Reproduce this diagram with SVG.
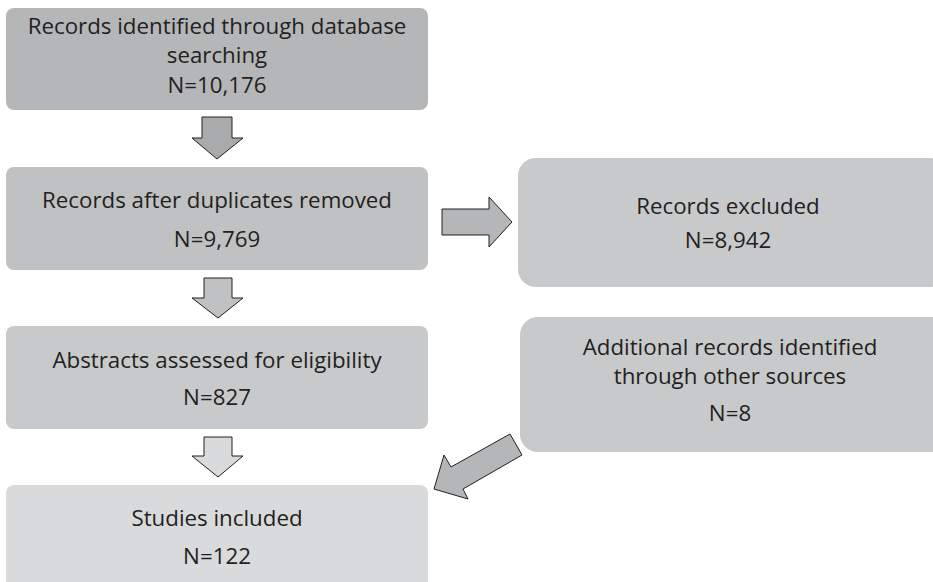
<svg xmlns="http://www.w3.org/2000/svg" width="933" height="582" viewBox="0 0 933 582">
  <style>
    .lbl { font-family: "Open Sans", "Liberation Sans", sans-serif; font-size: 22.3px; fill: #231f20; text-anchor: middle; }
    .arrow { stroke: #231f20; stroke-width: 1; stroke-linejoin: miter; }
  </style>
  <rect width="933" height="582" fill="#ffffff"/>

  <g id="node-identified">
    <rect x="6" y="8" width="422" height="102" rx="8" fill="#b5b6b8"/>
    <text class="lbl" x="217" y="34">Records identified through database</text>
    <text class="lbl" x="217" y="63">searching</text>
    <text class="lbl" x="217" y="93">N=10,176</text>
  </g>

  <g id="node-deduplicated">
    <rect x="6" y="167" width="422" height="103" rx="8" fill="#c0c1c3"/>
    <text class="lbl" x="217" y="208">Records after duplicates removed</text>
    <text class="lbl" x="217" y="247">N=9,769</text>
  </g>

  <g id="node-abstracts">
    <rect x="6" y="326" width="422" height="103" rx="8" fill="#c8c9cb"/>
    <text class="lbl" x="217" y="368">Abstracts assessed for eligibility</text>
    <text class="lbl" x="217" y="405">N=827</text>
  </g>

  <g id="node-included">
    <rect x="6" y="485" width="422" height="110" rx="8" fill="#d9dadb"/>
    <text class="lbl" x="217" y="526">Studies included</text>
    <text class="lbl" x="217" y="564">N=122</text>
  </g>

  <g id="node-excluded">
    <rect x="518" y="158" width="430" height="129" rx="18" fill="#c8c9cb"/>
    <text class="lbl" x="728" y="214">Records excluded</text>
    <text class="lbl" x="728" y="248">N=8,942</text>
  </g>

  <g id="node-additional">
    <rect x="520" y="317" width="430" height="135" rx="18" fill="#c8c9cb"/>
    <text class="lbl" x="730" y="355">Additional records identified</text>
    <text class="lbl" x="730" y="384">through other sources</text>
    <text class="lbl" x="730" y="421">N=8</text>
  </g>

  <g id="connectors">
    <polygon class="arrow" fill="#a9aaac" points="202,117 232,117 232,138 243,138 217,159 192,138 202,138"/>
    <polygon class="arrow" fill="#c0c1c3" points="204,278 232,278 232,298 243,298 218,318 192,298 204,298"/>
    <polygon class="arrow" fill="#d9dadb" points="204,437 232,437 232,456 243,456 218,477 192,456 204,456"/>
    <polygon class="arrow" fill="#b5b6b8" points="442,209 489,209 489,197 512,222 489,247 489,235 442,235"/>
    <polygon class="arrow" fill="#b5b6b8" points="510,434 522,455 463,489 468,499 434,489 444,455 451,467"/>
  </g>
</svg>
